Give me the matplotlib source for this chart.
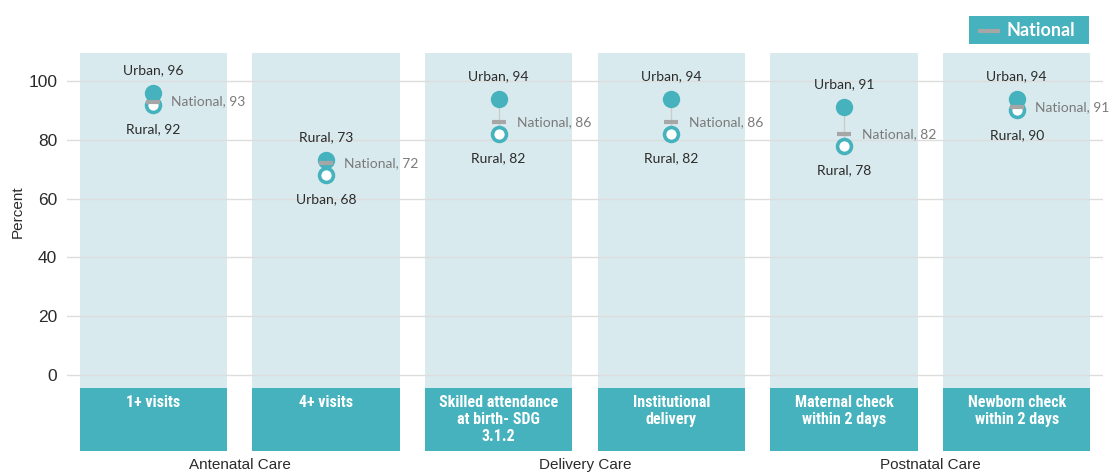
import matplotlib
matplotlib.use("Agg")
import matplotlib.pyplot as plt
from matplotlib.patches import Rectangle

# ---- data ----
indicators = ["1+ visits", "4+ visits", "Skilled attendance\nat birth- SDG\n3.1.2",
              "Institutional\ndelivery", "Maternal check\nwithin 2 days", "Newborn check\nwithin 2 days"]
groups = ["Antenatal Care", "Delivery Care", "Postnatal Care"]
group_members = [[0, 1], [2, 3], [4, 5]]
urban = [96, 68, 94, 94, 91, 94]
rural = [92, 73, 82, 82, 78, 90]
national = [93, 72, 86, 86, 82, 91]
yticks = [0, 20, 40, 60, 80, 100]

TEAL = "#45b2bd"
PANEL = "#d9eaee"
GREY = "#a6a6a6"
NATG = "#7a7a7a"
TXT = "#2b2b2b"

LAB = ['Lato', 'DejaVu Sans']
ARIAL = ['Liberation Sans', 'DejaVu Sans']
COND = ['Roboto Condensed', 'DejaVu Sans']

plt.rcParams['font.family'] = ARIAL
fig = plt.figure(figsize=(11.09, 4.76), dpi=100)
W, H = 1109, 476
ax = fig.add_axes([67 / W, (476 - 451.4) / H, (1103 - 67) / W, (451.4 - 51.6) / H])
ax.set_xlim(-0.5, 5.5)
ax.set_ylim(-26, 110)
for s in ax.spines.values():
    s.set_visible(False)
ax.set_xticks([])
ax.set_yticks(yticks)
ax.tick_params(axis='y', length=0, labelsize=12.5, labelcolor=TXT, pad=7)
fig.text(18 / W, 1 - 212 / H, "Percent", rotation=90, ha='center', va='center',
         fontsize=11, color=TXT)

pw = 0.852
for i, lab in enumerate(indicators):
    ax.add_patch(Rectangle((i - pw / 2, -4.4), pw, 109.5 + 4.4, facecolor=PANEL,
                           edgecolor='none', zorder=1))
    ax.add_patch(Rectangle((i - pw / 2, -25.9), pw, 25.9 - 4.4, facecolor=TEAL,
                           edgecolor='none', zorder=2))
    ax.text(i, -6.9, lab, ha='center', va='top', color='white', fontsize=11.5,
            fontweight='bold', family=COND, linespacing=1.15, zorder=3)

for y in yticks:
    ax.axhline(y, color="#dddddd", lw=1, zorder=1.5)

for gi, g in enumerate(groups):
    cx = sum(group_members[gi]) / len(group_members[gi])
    ax.text(cx, -30.6, g, ha='center', va='center', fontsize=11, color=TXT, clip_on=False)

for i in range(len(indicators)):
    u, r, n = urban[i], rural[i], national[i]
    top_v, bot_v = max(u, r), min(u, r)
    top_lab = "Urban" if u >= r else "Rural"
    bot_lab = "Rural" if u >= r else "Urban"
    ax.plot([i, i], [bot_v, top_v], color="#cccccc", lw=1, zorder=3)
    ax.plot(i, top_v, 'o', ms=11.5, color=TEAL, mec=TEAL, zorder=4)
    ax.plot(i, bot_v, 'o', ms=10, mfc='white', mec=TEAL, mew=2.6, zorder=4)
    ax.plot(i, n, marker='_', ms=10, mew=3, color=GREY, zorder=5)
    ax.annotate(f"{top_lab}, {top_v}", (i, top_v), xytext=(0, 16.5), textcoords='offset points',
                ha='center', va='center', fontsize=10, color=TXT, family=LAB, zorder=6)
    ax.annotate(f"{bot_lab}, {bot_v}", (i, bot_v), xytext=(0, -17.5), textcoords='offset points',
                ha='center', va='center', fontsize=10, color=TXT, family=LAB, zorder=6)
    ax.annotate(f"National, {n}", (i, n), xytext=(13, 0), textcoords='offset points',
                ha='left', va='center', fontsize=10, color=NATG, family=LAB, zorder=6)

# legend box
fig.patches.append(Rectangle((969 / W, 1 - 44 / H), 120 / W, 28 / H, facecolor=TEAL,
                             edgecolor='none', transform=fig.transFigure))
fig.lines.append(plt.Line2D([980 / W, 998 / W], [1 - 30.5 / H, 1 - 30.5 / H], color=GREY,
                            lw=3, transform=fig.transFigure))
fig.text(1007 / W, 1 - 30 / H, "National", ha='left', va='center', color='white',
         fontsize=13, fontweight='bold', family=LAB)

fig.savefig("out.png", dpi=100)
